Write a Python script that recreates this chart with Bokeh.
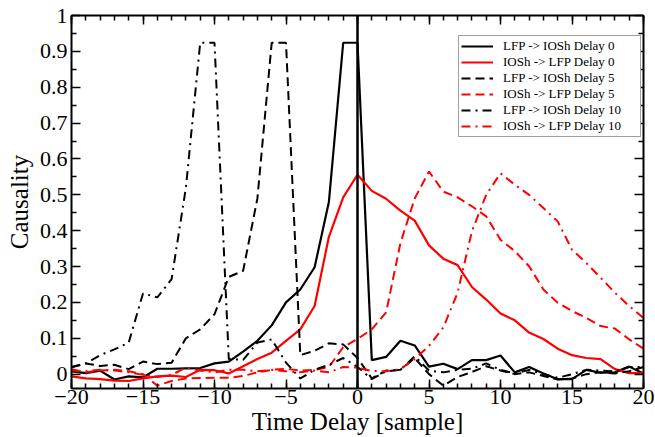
from bokeh.plotting import figure
from bokeh.models import (LinearAxis, FixedTicker, CustomJSTickFormatter, Span,
                          Legend, LegendItem, ColumnDataSource, Range1d)
from bokeh.embed import file_html
from bokeh.resources import INLINE

delay = list(range(-20, 21))

lfp_ios_d0 = [0.008, 0.003, 0.01, -0.015, -0.006, -0.009, 0.015, 0.015, 0.016, 0.017,
              0.03, 0.035, 0.063, 0.093, 0.136, 0.2, 0.236, 0.298, 0.48, 0.924,
              0.924, 0.039, 0.048, 0.093, 0.08, 0.021, 0.029, 0.014, 0.039, 0.039,
              0.052, 0.005, 0.02, 0.002, -0.014, -0.014, 0.012, 0.004, 0.005, 0.021, 0.002]

ios_lfp_d0 = [-0.006, -0.012, -0.014, -0.018, -0.019, -0.012, -0.006, -0.004, -0.008, 0.012,
              0.011, 0.002, 0.022, 0.042, 0.06, 0.093, 0.125, 0.19, 0.383, 0.493,
              0.556, 0.511, 0.489, 0.456, 0.428, 0.359, 0.322, 0.304, 0.243, 0.208,
              0.169, 0.15, 0.116, 0.098, 0.071, 0.053, 0.045, 0.042, 0.014, 0.003, 0.003]

lfp_ios_d5 = [0.019, 0.03, 0.023, 0.026, 0.014, 0.035, 0.028, 0.032, 0.10, 0.125,
              0.167, 0.271, 0.288, 0.49, 0.924, 0.924, 0.053, 0.065, 0.086, 0.083,
              0.045, -0.012, 0.01, 0.012, 0.045, 0.0, -0.032, -0.008, 0.006, 0.022,
              0.01, 0.0, 0.005, -0.005, -0.015, -0.012, 0.0, 0.005, 0.002, 0.008, 0.02]

ios_lfp_d5 = [0.014, 0.005, 0.01, 0.012, 0.008, 0.0, -0.032, -0.019, -0.012, -0.011,
              -0.01, -0.01, -0.005, 0.005, 0.012, 0.015, 0.01, 0.012, 0.02, 0.075,
              0.098, 0.125, 0.172, 0.365, 0.49, 0.565, 0.509, 0.493, 0.468, 0.44,
              0.375, 0.343, 0.301, 0.236, 0.199, 0.176, 0.157, 0.134, 0.127, 0.097, 0.071]

lfp_ios_d10 = [0.02, 0.03, 0.053, 0.069, 0.088, 0.225, 0.214, 0.265, 0.52, 0.924,
               0.924, 0.042, 0.04, 0.088, 0.097, 0.032, -0.012, 0.012, 0.026, 0.045,
               0.02, -0.014, 0.008, 0.012, 0.05, 0.01, 0.005, 0.012, 0.015, 0.03,
               0.012, 0.002, 0.012, 0.0, -0.01, 0.0, 0.012, 0.01, 0.008, 0.02, 0.02]

ios_lfp_d10 = [0.01, 0.008, 0.012, 0.01, 0.005, -0.002, -0.008, -0.002, 0.018, 0.01,
               0.005, 0.012, 0.012, 0.008, 0.012, 0.008, 0.005, 0.01, 0.005, 0.02,
               0.018, 0.009, 0.008, 0.014, 0.042, 0.079, 0.13, 0.227, 0.398, 0.5,
               0.56, 0.528, 0.5, 0.463, 0.426, 0.347, 0.31, 0.269, 0.227, 0.19, 0.157]

labels = ["LFP -> IOSh Delay 0", "IOSh -> LFP Delay 0",
          "LFP -> IOSh Delay 5", "IOSh -> LFP Delay 5",
          "LFP -> IOSh Delay 10", "IOSh -> LFP Delay 10"]

x_ticks = [-20, -15, -10, -5, 0, 5, 10, 15, 20]
y_ticks = [0.0, 0.1, 0.2, 0.3, 0.4, 0.5, 0.6, 0.7, 0.8, 0.9, 1.0]
y_minor = [0.05, 0.15, 0.25, 0.35, 0.45, 0.55, 0.65, 0.75, 0.85, 0.95]

FONT = "Liberation Serif"

p = figure(width=655, height=437, output_backend="svg", toolbar_location=None,
           x_range=Range1d(-20, 20), y_range=Range1d(-0.04, 1.0),
           min_border_left=71, min_border_right=12, min_border_top=15, min_border_bottom=48)
p.grid.visible = False
p.outline_line_color = None
p.background_fill_color = "white"
p.border_fill_color = "white"

src = ColumnDataSource(dict(x=delay, a=lfp_ios_d0, b=ios_lfp_d0, c=lfp_ios_d5,
                            d=ios_lfp_d5, e=lfp_ios_d10, f=ios_lfp_d10))

styles = [("a", "black", "solid", 2.2), ("b", "red", "solid", 2.2),
          ("c", "black", "9 5", 2), ("d", "red", "9 5", 2),
          ("e", "black", "9 5 2 5", 2), ("f", "red", "9 5 2 5", 2)]
renderers = []
for col, color, dash, w in styles:
    r = p.line("x", col, source=src, line_color=color, line_width=w, line_dash=dash)
    renderers.append(r)

p.add_layout(Span(location=0, dimension="height", line_color="black", line_width=2.5))

yfmt = CustomJSTickFormatter(code="""
if (Math.abs(tick) < 1e-9) return '0';
if (Math.abs(tick - 1) < 1e-9) return '1';
return tick.toFixed(1);
""")
blank = CustomJSTickFormatter(code="return '';")

def style_axis(ax):
    ax.axis_line_width = 2
    ax.axis_line_color = "black"
    ax.major_tick_in = 9
    ax.major_tick_out = 0
    ax.minor_tick_in = 5
    ax.minor_tick_out = 0
    ax.major_tick_line_width = 1.5
    ax.minor_tick_line_width = 1.5
    ax.major_tick_line_color = "black"
    ax.minor_tick_line_color = "black"
    ax.major_label_text_font = FONT
    ax.major_label_text_font_size = "22px"
    ax.major_label_text_color = "black"
    ax.axis_label_text_font = FONT
    ax.axis_label_text_font_size = "25px"
    ax.axis_label_text_font_style = "normal"
    ax.axis_label_text_color = "black"

xt = FixedTicker(ticks=x_ticks, minor_ticks=delay)
yt = FixedTicker(ticks=y_ticks, minor_ticks=y_minor)

xa = p.xaxis[0]
xa.ticker = xt
style_axis(xa)
xa.axis_label = "Time Delay [sample]"
xa.major_label_standoff = 1
xa.axis_label_standoff = 1

ya = p.yaxis[0]
ya.ticker = yt
ya.formatter = yfmt
style_axis(ya)
ya.axis_label = "Causality"
ya.major_label_standoff = 4
ya.axis_label_standoff = 4

top = LinearAxis(ticker=FixedTicker(ticks=x_ticks, minor_ticks=delay), formatter=blank)
style_axis(top)
top.major_label_text_font_size = "0px"
top.major_label_standoff = 0
p.add_layout(top, "above")

right = LinearAxis(ticker=FixedTicker(ticks=y_ticks, minor_ticks=y_minor), formatter=blank)
style_axis(right)
right.major_label_text_font_size = "0px"
right.major_label_standoff = 0
p.add_layout(right, "right")

legend = Legend(items=[LegendItem(label=l, renderers=[r]) for l, r in zip(labels, renderers)],
                location=(387, 251))
legend.label_text_font = FONT
legend.label_text_font_size = "13px"
legend.label_text_color = "black"
legend.label_height = 16
legend.glyph_height = 16
legend.glyph_width = 32
legend.label_standoff = 10
legend.label_width = 135
legend.spacing = 0
legend.padding = 2
legend.margin = 0
legend.border_line_color = "#444444"
legend.border_line_width = 1
legend.background_fill_color = "white"
legend.background_fill_alpha = 1
p.add_layout(legend)

open("out.html", "w").write(file_html(p, INLINE))
